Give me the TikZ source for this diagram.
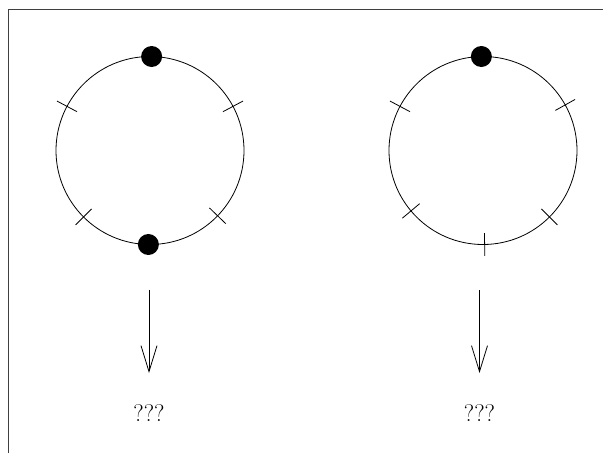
\documentclass[tikz,border=0pt]{standalone}
\usetikzlibrary{arrows.meta,calc}
\begin{document}
\begin{tikzpicture}[x=1pt,y=-1pt,line width=0.8pt,
  ring/.style={circle,draw,minimum size=188pt,inner sep=0pt,outer sep=0pt},
  dot/.style={circle,fill=black,minimum size=21pt,inner sep=0pt},
  arr/.style={-{Straight Barb[length=26pt,width=16pt]}},
  qlabel/.style={font=\fontsize{24}{28}\selectfont,inner sep=0pt}]
\useasboundingbox (0,0) rectangle (603,453);
\draw[black!75] (8,453) -- (8,9) -- (604,9);
% left
\node[ring] (c1) at (150,150.5) {};
\node[dot] (d1) at (c1.89) {};
\node[dot] (d2) at (c1.269) {};
\foreach \a in {28,152,225,316}
  \draw ($(c1.center)!0.88!(c1.\a)$) -- ($(c1.center)!1.12!(c1.\a)$);
\coordinate (s1) at (149,290);
\coordinate (e1) at (149,373);
\draw[arr] (s1) -- (e1);
\node[qlabel] (q1) at (149,413) {???};
% right
\node[ring] (c2) at (483,150.5) {};
\node[dot] (d3) at (c2.91) {};
\foreach \a in {29,152.5,220,271,315}
  \draw ($(c2.center)!0.88!(c2.\a)$) -- ($(c2.center)!1.12!(c2.\a)$);
\coordinate (s2) at (479.5,290);
\coordinate (e2) at (479.5,373);
\draw[arr] (s2) -- (e2);
\node[qlabel] (q2) at (479.5,413) {???};
\end{tikzpicture}
\end{document}
